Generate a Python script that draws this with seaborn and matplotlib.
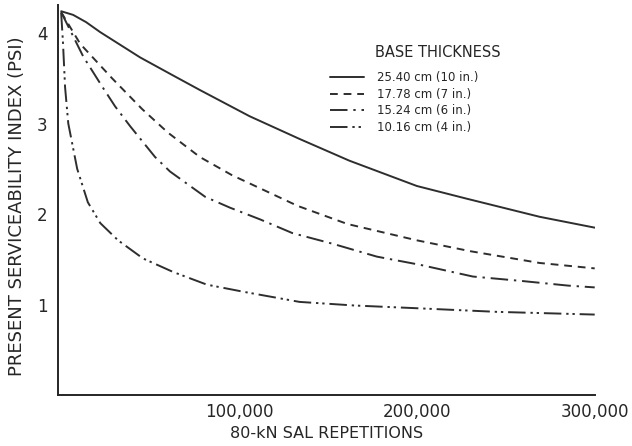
import numpy as np
import pandas as pd
import matplotlib
matplotlib.use("Agg")
import matplotlib.pyplot as plt
import seaborn as sns

# ---- data ----
series_labels = ["25.40 cm (10 in.)", "17.78 cm (7 in.)", "15.24 cm (6 in.)", "10.16 cm (4 in.)"]
legend_title = "BASE THICKNESS"

x_10in = [0, 6700, 14000, 21900, 44400, 63000, 78000, 106000, 134000, 162000, 200000, 228000, 269000, 300000]
y_10in = [4.24, 4.20, 4.12, 4.01, 3.73, 3.53, 3.37, 3.08, 2.83, 2.59, 2.31, 2.17, 1.97, 1.85]

x_7in = [0, 10700, 28600, 45500, 60000, 78000, 96000, 133000, 161000, 200000, 230000, 269000, 300000]
y_7in = [4.23, 3.88, 3.50, 3.16, 2.90, 2.63, 2.43, 2.09, 1.89, 1.71, 1.59, 1.46, 1.40]

x_6in = [0, 12400, 23000, 30300, 38800, 52800, 61200, 81000, 95000, 112000, 130000, 153000, 177500, 201700, 231500, 259500, 285000, 300000]
y_6in = [4.23, 3.74, 3.41, 3.19, 2.97, 2.63, 2.47, 2.19, 2.07, 1.94, 1.79, 1.67, 1.53, 1.44, 1.31, 1.26, 1.21, 1.19]

x_4in = [0, 1000, 2200, 4000, 9000, 15000, 22000, 32000, 46000, 63000, 82000, 103000, 134000, 165000, 200000, 245000, 300000]
y_4in = [4.22, 3.9, 3.4, 3.0, 2.5, 2.13, 1.90, 1.71, 1.51, 1.36, 1.22, 1.14, 1.03, 0.99, 0.96, 0.92, 0.89]

x_ticks = [100000, 200000, 300000]
x_ticklabels = ["100,000", "200,000", "300,000"]
y_ticks = [1, 2, 3, 4]

frames = []
for lab, xs, ys in zip(series_labels, [x_10in, x_7in, x_6in, x_4in], [y_10in, y_7in, y_6in, y_4in]):
    frames.append(pd.DataFrame({"reps": xs, "psi": ys, "thickness": lab}))
df = pd.concat(frames, ignore_index=True)

sns.set_theme(style="white")
plt.rcParams["font.family"] = ["DejaVu Sans"]

ink = "#262626"
fig = plt.figure(figsize=(6.32, 4.46), dpi=100)
ax = fig.add_axes([0.092, 0.114, 0.849, 0.875])

dash_map = {
    series_labels[0]: "",
    series_labels[1]: (4, 3),
    series_labels[2]: (9, 3, 1.2, 3),
    series_labels[3]: (9, 2.5, 1.2, 2, 1.2, 2.5),
}

sns.lineplot(data=df, x="reps", y="psi", style="thickness", dashes=dash_map,
             color="#2e2e2e", linewidth=1.4, ax=ax, estimator=None, sort=False)

ax.set_xlim(-1700, 300000)
ax.set_ylim(0, 4.31)
ax.set_xticks(x_ticks)
ax.set_xticklabels(x_ticklabels, fontsize=12, color=ink)
ax.set_yticks(y_ticks)
ax.set_yticklabels([str(v) for v in y_ticks], fontsize=12, color=ink)
ax.tick_params(axis="x", direction="in", length=9, width=1.2, color=ink, pad=6)
ax.tick_params(axis="y", direction="inout", length=7, width=1.2, color=ink, pad=4)
for s in ["top", "right"]:
    ax.spines[s].set_visible(False)
for s in ["left", "bottom"]:
    ax.spines[s].set_color(ink)
    ax.spines[s].set_linewidth(1.4)

ax.set_xlabel("80-kN SAL REPETITIONS", fontsize=11.5, labelpad=3, color=ink)
ax.set_ylabel("PRESENT SERVICEABILITY INDEX (PSI)", fontsize=13, color=ink)
ax.yaxis.set_label_coords(-0.06, 0.485)

handles, labels = ax.get_legend_handles_labels()
leg = ax.legend(handles, labels, loc="upper left",
                bbox_to_anchor=(0.5065, 0.83), frameon=False, fontsize=8.5,
                handlelength=2.9, labelspacing=0.3, borderpad=0,
                borderaxespad=0, handletextpad=1.05)
for t in leg.get_texts():
    t.set_color(ink)
ax.text(0.590, 0.879, legend_title, transform=ax.transAxes, fontsize=10.5,
        ha="left", va="center", color=ink)

fig.savefig("out.png", dpi=100, facecolor="white")
